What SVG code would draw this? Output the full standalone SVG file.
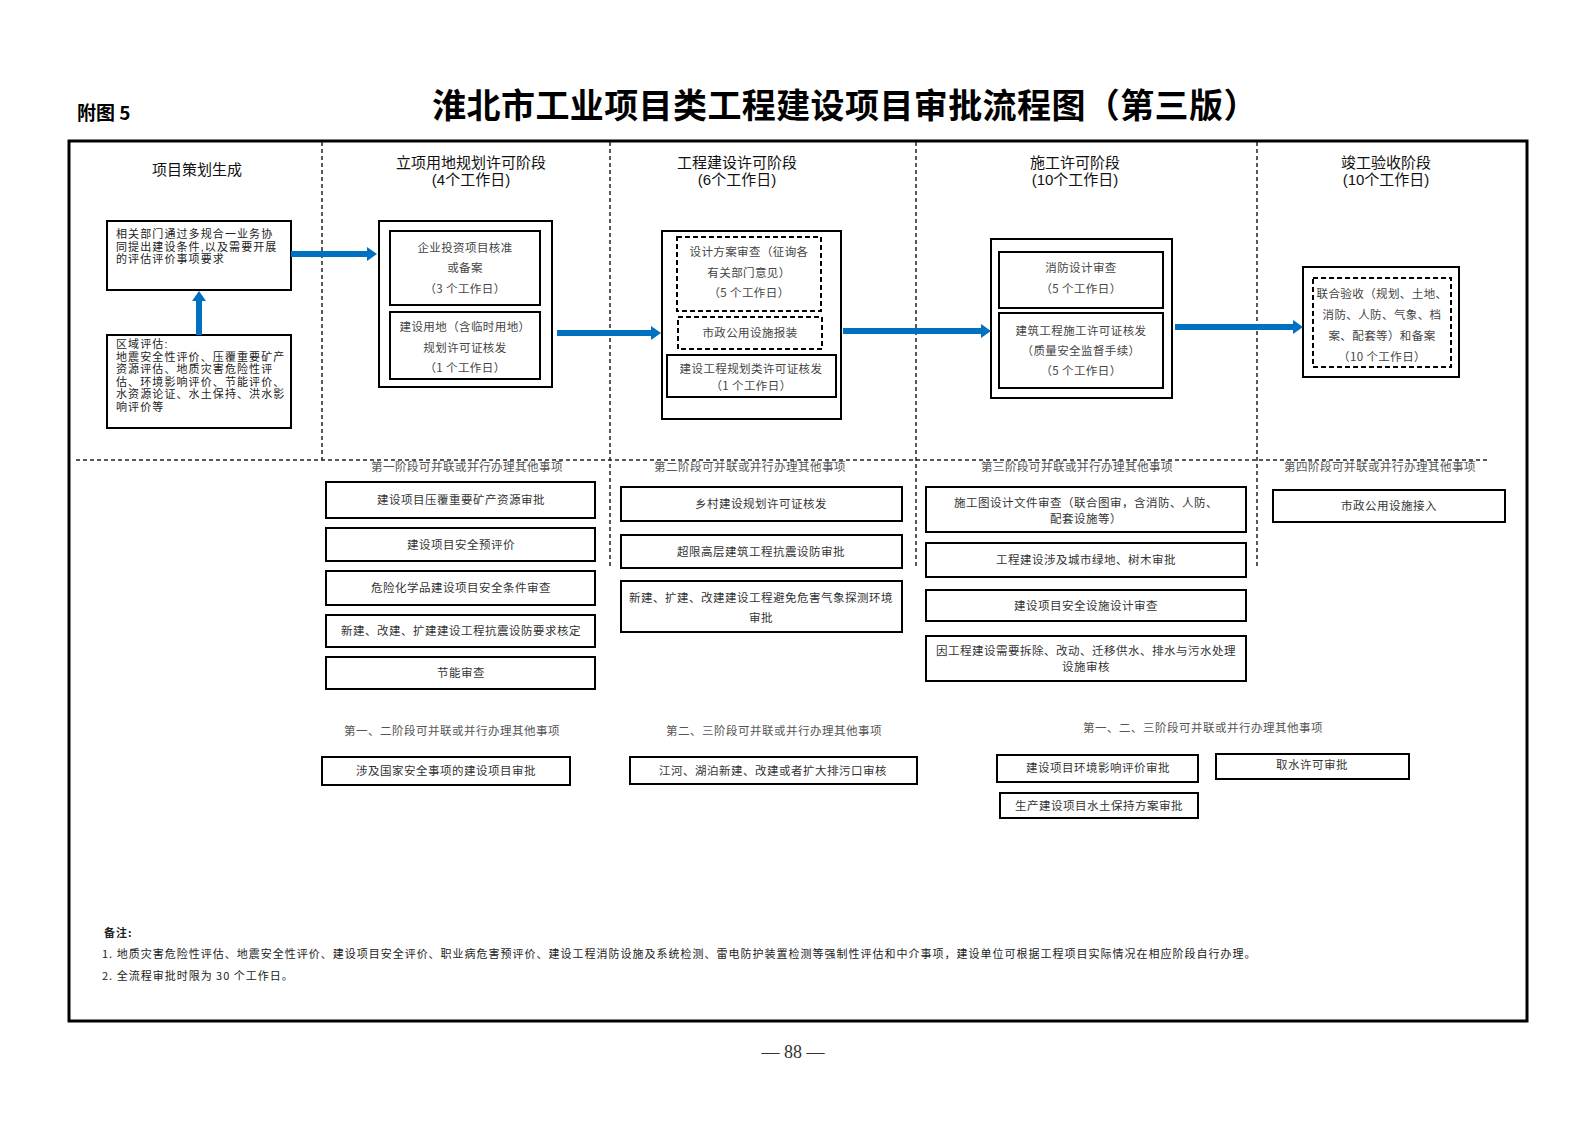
<svg xmlns="http://www.w3.org/2000/svg" width="1587" height="1122" viewBox="0 0 1587 1122">
<defs>
<style>
text{font-family:"Noto Sans CJK SC","Noto Sans",sans-serif}
.ttl{font-size:34px;font-weight:bold;fill:#000;letter-spacing:0.4px;text-anchor:middle}
.sub{font-size:19px;font-weight:bold;fill:#000}
.st{font-family:"Liberation Sans","Noto Sans CJK SC",sans-serif;font-size:15px;fill:#111;text-anchor:middle}
.bx{fill:#fff;stroke:#000;stroke-width:2}
.dbx{fill:#fff;stroke:#000;stroke-width:2;stroke-dasharray:5 3}
.frame{fill:none;stroke:#000;stroke-width:3}
.dl{stroke:#222;stroke-width:1.5;stroke-dasharray:4 3;fill:none}
.lt{font-family:"Liberation Sans","Noto Sans CJK SC",sans-serif;font-size:11px;fill:#222;letter-spacing:1.1px}
.bt{font-size:11.5px;fill:#444;text-anchor:middle;letter-spacing:0.4px}
.it{font-size:11.5px;fill:#333;text-anchor:middle;letter-spacing:0.5px}
.sl{font-size:11.5px;fill:#555;text-anchor:middle;letter-spacing:0.5px}
.nt{font-size:11px;fill:#222;letter-spacing:1px}
.arr{stroke:#0070C0;stroke-width:6;fill:none;marker-end:url(#ah)}
</style>
<marker id="ah" markerUnits="userSpaceOnUse" markerWidth="10" markerHeight="14" viewBox="0 0 10 14" refX="1" refY="7" orient="auto"><path d="M0,0 L10,7 L0,14 z" fill="#0070C0"/></marker>
</defs>
<rect width="1587" height="1122" fill="#fff"/>

<g id="header">
<text class="sub" x="77" y="120">附图 5</text>
<text class="ttl" x="845" y="118">淮北市工业项目类工程建设项目审批流程图（第三版）</text>
</g>

<rect class="frame" x="69" y="141" width="1458" height="880"/>

<g id="dividers">
<line class="dl" x1="322" y1="142" x2="322" y2="460"/>
<line class="dl" x1="610" y1="142" x2="610" y2="566"/>
<line class="dl" x1="916" y1="142" x2="916" y2="566"/>
<line class="dl" x1="1257" y1="142" x2="1257" y2="566"/>
<line class="dl" x1="76" y1="460" x2="1490" y2="460"/>
</g>

<g id="stage-titles">
<text class="st" x="197" y="175">项目策划生成</text>
<text class="st" y="168"><tspan x="471">立项用地规划许可阶段</tspan><tspan x="471" dy="17">(4个工作日)</tspan></text>
<text class="st" y="168"><tspan x="737">工程建设许可阶段</tspan><tspan x="737" dy="17">(6个工作日)</tspan></text>
<text class="st" y="168"><tspan x="1075">施工许可阶段</tspan><tspan x="1075" dy="17">(10个工作日)</tspan></text>
<text class="st" y="168"><tspan x="1386">竣工验收阶段</tspan><tspan x="1386" dy="17">(10个工作日)</tspan></text>
</g>

<g id="node-conditions">
<rect class="bx" x="107" y="221" width="184" height="69"/>
<text class="lt" y="238"><tspan x="116">相关部门通过多规合一业务协</tspan><tspan x="116" dy="12.5">同提出建设条件,以及需要开展</tspan><tspan x="116" dy="12.5">的评估评价事项要求</tspan></text>
</g>

<g id="node-regional">
<rect class="bx" x="107" y="335" width="184" height="93"/>
<text class="lt" y="348"><tspan x="116">区域评估:</tspan><tspan x="116" dy="12.5">地震安全性评价、压覆重要矿产</tspan><tspan x="116" dy="12.5">资源评估、地质灾害危险性评</tspan><tspan x="116" dy="12.5">估、环境影响评价、节能评价、</tspan><tspan x="116" dy="12.5">水资源论证、水土保持、洪水影</tspan><tspan x="116" dy="12.5">响评价等</tspan></text>
</g>

<g id="node-stage1">
<rect class="bx" x="379" y="221" width="173" height="166"/>
<rect class="bx" x="390" y="231" width="150" height="74"/>
<text class="bt" y="252"><tspan x="465">企业投资项目核准</tspan><tspan x="465" dy="20">或备案</tspan><tspan x="465" dy="21">（3 个工作日）</tspan></text>
<rect class="bx" x="390" y="312" width="150" height="67"/>
<text class="bt" y="331"><tspan x="465">建设用地（含临时用地）</tspan><tspan x="465" dy="21">规划许可证核发</tspan><tspan x="465" dy="20">（1 个工作日）</tspan></text>
</g>

<g id="node-stage2">
<rect class="bx" x="662" y="231" width="179" height="188"/>
<rect class="dbx" x="677" y="237" width="144" height="74"/>
<text class="bt" y="256"><tspan x="749">设计方案审查（征询各</tspan><tspan x="749" dy="21">有关部门意见）</tspan><tspan x="749" dy="20">（5 个工作日）</tspan></text>
<rect class="dbx" x="678" y="317" width="144" height="32"/>
<text class="bt" x="750" y="337">市政公用设施报装</text>
<rect class="bx" x="667" y="355" width="169" height="42"/>
<text class="bt" y="373"><tspan x="751">建设工程规划类许可证核发</tspan><tspan x="751" dy="17">（1 个工作日）</tspan></text>
</g>

<g id="node-stage3">
<rect class="bx" x="991" y="239" width="181" height="159"/>
<rect class="bx" x="999" y="252" width="164" height="56"/>
<text class="bt" y="272"><tspan x="1081">消防设计审查</tspan><tspan x="1081" dy="21">（5 个工作日）</tspan></text>
<rect class="bx" x="999" y="313" width="164" height="75"/>
<text class="bt" y="335"><tspan x="1081">建筑工程施工许可证核发</tspan><tspan x="1081" dy="20">（质量安全监督手续）</tspan><tspan x="1081" dy="20">（5 个工作日）</tspan></text>
</g>

<g id="node-stage4">
<rect class="bx" x="1303" y="267" width="156" height="110"/>
<rect class="dbx" x="1313" y="278" width="138" height="89"/>
<text class="bt" y="298"><tspan x="1382">联合验收（规划、土地、</tspan><tspan x="1382" dy="21">消防、人防、气象、档</tspan><tspan x="1382" dy="21">案、配套等）和备案</tspan><tspan x="1382" dy="21">（10 个工作日）</tspan></text>
</g>

<g id="connectors">
<line class="arr" x1="291" y1="254" x2="368" y2="254"/>
<line class="arr" x1="199" y1="335" x2="199" y2="300"/>
<line class="arr" x1="557" y1="333" x2="652" y2="333"/>
<line class="arr" x1="843" y1="331" x2="982" y2="331"/>
<line class="arr" x1="1175" y1="327" x2="1294" y2="327"/>
</g>

<g id="parallel-1">
<text class="sl" x="467" y="471">第一阶段可并联或并行办理其他事项</text>
<rect class="bx" x="326" y="482" width="269" height="36"/>
<text class="it" x="461" y="504">建设项目压覆重要矿产资源审批</text>
<rect class="bx" x="326" y="528" width="269" height="33"/>
<text class="it" x="461" y="549">建设项目安全预评价</text>
<rect class="bx" x="326" y="571" width="269" height="34"/>
<text class="it" x="461" y="592">危险化学品建设项目安全条件审查</text>
<rect class="bx" x="326" y="615" width="269" height="32"/>
<text class="it" x="461" y="635">新建、改建、扩建建设工程抗震设防要求核定</text>
<rect class="bx" x="326" y="657" width="269" height="32"/>
<text class="it" x="461" y="677">节能审查</text>
</g>

<g id="parallel-2">
<text class="sl" x="750" y="471">第二阶段可并联或并行办理其他事项</text>
<rect class="bx" x="621" y="487" width="281" height="34"/>
<text class="it" x="761" y="508">乡村建设规划许可证核发</text>
<rect class="bx" x="621" y="535" width="281" height="33"/>
<text class="it" x="761" y="556">超限高层建筑工程抗震设防审批</text>
<rect class="bx" x="621" y="581" width="281" height="51"/>
<text class="it" y="602"><tspan x="761">新建、扩建、改建建设工程避免危害气象探测环境</tspan><tspan x="761" dy="20">审批</tspan></text>
</g>

<g id="parallel-3">
<text class="sl" x="1077" y="471">第三阶段可并联或并行办理其他事项</text>
<rect class="bx" x="926" y="487" width="320" height="45"/>
<text class="it" y="507"><tspan x="1086">施工图设计文件审查（联合图审，含消防、人防、</tspan><tspan x="1086" dy="16">配套设施等）</tspan></text>
<rect class="bx" x="926" y="543" width="320" height="34"/>
<text class="it" x="1086" y="564">工程建设涉及城市绿地、树木审批</text>
<rect class="bx" x="926" y="590" width="320" height="31"/>
<text class="it" x="1086" y="610">建设项目安全设施设计审查</text>
<rect class="bx" x="926" y="636" width="320" height="45"/>
<text class="it" y="655"><tspan x="1086">因工程建设需要拆除、改动、迁移供水、排水与污水处理</tspan><tspan x="1086" dy="16">设施审核</tspan></text>
</g>

<g id="parallel-4">
<text class="sl" x="1380" y="471">第四阶段可并联或并行办理其他事项</text>
<rect class="bx" x="1273" y="490" width="232" height="32"/>
<text class="it" x="1389" y="510">市政公用设施接入</text>
</g>

<g id="parallel-12">
<text class="sl" x="452" y="735">第一、二阶段可并联或并行办理其他事项</text>
<rect class="bx" x="322" y="757" width="248" height="28"/>
<text class="it" x="446" y="775">涉及国家安全事项的建设项目审批</text>
</g>

<g id="parallel-23">
<text class="sl" x="774" y="735">第二、三阶段可并联或并行办理其他事项</text>
<rect class="bx" x="630" y="757" width="287" height="27"/>
<text class="it" x="773" y="775">江河、湖泊新建、改建或者扩大排污口审核</text>
</g>

<g id="parallel-123">
<text class="sl" x="1203" y="732">第一、二、三阶段可并联或并行办理其他事项</text>
<rect class="bx" x="997" y="755" width="201" height="27"/>
<text class="it" x="1098" y="772">建设项目环境影响评价审批</text>
<rect class="bx" x="1216" y="754" width="193" height="25"/>
<text class="it" x="1312" y="769">取水许可审批</text>
<rect class="bx" x="1000" y="793" width="198" height="25"/>
<text class="it" x="1099" y="810">生产建设项目水土保持方案审批</text>
</g>

<g id="notes">
<text class="nt" x="104" y="937" font-weight="bold">备注:</text>
<text class="nt" x="102" y="958">1. 地质灾害危险性评估、地震安全性评价、建设项目安全评价、职业病危害预评价、建设工程消防设施及系统检测、雷电防护装置检测等强制性评估和中介事项，建设单位可根据工程项目实际情况在相应阶段自行办理。</text>
<text class="nt" x="102" y="980">2. 全流程审批时限为 30 个工作日。</text>
</g>

<text x="793" y="1058" text-anchor="middle" style="font-family:'Liberation Serif',serif;font-size:18px;fill:#333">— 88 —</text>
</svg>
